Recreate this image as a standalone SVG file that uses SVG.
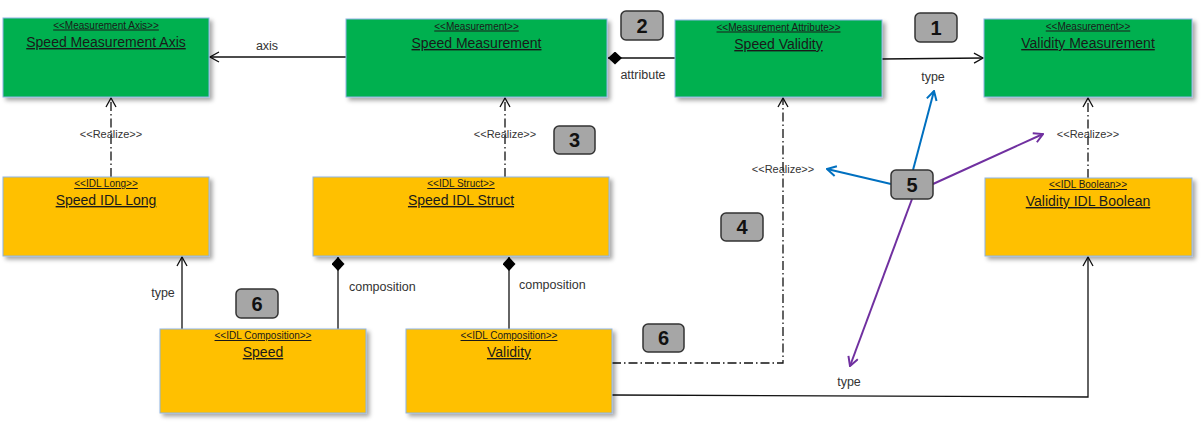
<svg xmlns="http://www.w3.org/2000/svg" width="1201" height="423" viewBox="0 0 1201 423">
<defs>
<style>
.g{fill:#00B050;stroke:#8EB4E3;stroke-width:1;filter:url(#sh)}
.y{fill:#FFC000;stroke:#8EB4E3;stroke-width:1;filter:url(#sh)}
.st{font-family:"Liberation Sans",Arial,sans-serif;font-size:10px;fill:#1a1a1a;text-anchor:middle;text-decoration:underline}
.nm{font-family:"Liberation Sans",Arial,sans-serif;font-size:14px;fill:#1a1a1a;text-anchor:middle;text-decoration:underline}
.lb{font-family:"Liberation Sans",Arial,sans-serif;font-size:12.5px;fill:#333}
.rz{font-family:"Liberation Sans",Arial,sans-serif;font-size:11px;fill:#333;text-anchor:middle}
.c{fill:#A6A6A6;stroke:#333;stroke-width:1.5}
.cn{font-family:"Liberation Sans",Arial,sans-serif;font-size:20px;font-weight:bold;fill:#111;text-anchor:middle}
.ln{fill:none;stroke:#111;stroke-width:1.3}
.dd{fill:none;stroke:#111;stroke-width:1.3;stroke-dasharray:9 3 1.5 3}
.bl{fill:none;stroke:#0070C0;stroke-width:2}
.pu{fill:none;stroke:#7030A0;stroke-width:2}
</style>
<filter id="sh" x="-10%" y="-10%" width="130%" height="130%">
<feDropShadow dx="3" dy="3" stdDeviation="2" flood-color="#000" flood-opacity="0.35"/>
</filter>
<marker id="ao" viewBox="0 0 11 12" refX="10" refY="6" markerWidth="11" markerHeight="12" markerUnits="userSpaceOnUse" orient="auto">
<path d="M1,1 L10,6 L1,11" fill="none" stroke="#111" stroke-width="1.3"/>
</marker>
<marker id="ab" viewBox="0 0 11 12" refX="10" refY="6" markerWidth="11" markerHeight="12" markerUnits="userSpaceOnUse" orient="auto">
<path d="M1,1 L10,6 L1,11" fill="none" stroke="#0070C0" stroke-width="2"/>
</marker>
<marker id="ap" viewBox="0 0 11 12" refX="10" refY="6" markerWidth="11" markerHeight="12" markerUnits="userSpaceOnUse" orient="auto">
<path d="M1,1 L10,6 L1,11" fill="none" stroke="#7030A0" stroke-width="2"/>
</marker>
<marker id="dm" viewBox="0 0 14 13" refX="0" refY="6.5" markerWidth="14" markerHeight="13" markerUnits="userSpaceOnUse" orient="auto">
<path d="M0,6.5 L7,0 L14,6.5 L7,13 Z" fill="#000"/>
</marker>
</defs>
<rect width="1201" height="423" fill="#fff"/>

<g id="connectors">
<line class="ln" x1="346" y1="57" x2="210" y2="57" marker-end="url(#ao)"/>
<text class="lb" x="267" y="50" text-anchor="middle">axis</text>
<line class="ln" x1="608" y1="58" x2="675" y2="58" marker-start="url(#dm)"/>
<text class="lb" x="643" y="79" text-anchor="middle">attribute</text>
<line class="ln" x1="882" y1="59" x2="983" y2="58" marker-end="url(#ao)"/>
<text class="lb" x="933" y="81" text-anchor="middle">type</text>
<line class="dd" x1="111" y1="177" x2="111" y2="98" marker-end="url(#ao)"/>
<text class="rz" x="111" y="138">&lt;&lt;Realize&gt;&gt;</text>
<line class="dd" x1="505" y1="177" x2="505" y2="98" marker-end="url(#ao)"/>
<text class="rz" x="505" y="138">&lt;&lt;Realize&gt;&gt;</text>
<polyline class="dd" points="612,363 783,363 783,98" marker-end="url(#ao)"/>
<text class="rz" x="783" y="173">&lt;&lt;Realize&gt;&gt;</text>
<line class="dd" x1="1088" y1="178" x2="1088" y2="98" marker-end="url(#ao)"/>
<text class="rz" x="1088" y="138">&lt;&lt;Realize&gt;&gt;</text>
<line class="ln" x1="182" y1="329" x2="182" y2="257" marker-end="url(#ao)"/>
<text class="lb" x="163" y="297" text-anchor="middle">type</text>
<line class="ln" x1="338" y1="257" x2="338" y2="329" marker-start="url(#dm)"/>
<text class="lb" x="349" y="291">composition</text>
<line class="ln" x1="509" y1="257" x2="509" y2="329" marker-start="url(#dm)"/>
<text class="lb" x="519" y="289">composition</text>
<polyline class="ln" points="612,395 1088,397 1088,257" marker-end="url(#ao)"/>
<text class="lb" x="849" y="386" text-anchor="middle">type</text>
<line class="bl" x1="913" y1="170" x2="934" y2="91" marker-end="url(#ab)"/>
<line class="bl" x1="891" y1="184" x2="827" y2="169" marker-end="url(#ab)"/>
<line class="pu" x1="933" y1="184" x2="1043" y2="134" marker-end="url(#ap)"/>
<line class="pu" x1="912" y1="199" x2="850" y2="366" marker-end="url(#ap)"/>
</g>

<g id="speed-measurement-axis">
<rect class="g" x="3" y="18" width="206" height="79"/>
<text class="st" x="106" y="28.5">&lt;&lt;Measurement Axis&gt;&gt;</text>
<text class="nm" x="106" y="47">Speed Measurement Axis</text>
</g>
<g id="speed-measurement">
<rect class="g" x="346" y="19" width="261" height="78"/>
<text class="st" x="476.5" y="29.5">&lt;&lt;Measurement&gt;&gt;</text>
<text class="nm" x="476.5" y="48">Speed Measurement</text>
</g>
<g id="speed-validity">
<rect class="g" x="675" y="20" width="207" height="77"/>
<text class="st" x="778.5" y="30.5">&lt;&lt;Measurement Attribute&gt;&gt;</text>
<text class="nm" x="778.5" y="49">Speed Validity</text>
</g>
<g id="validity-measurement">
<rect class="g" x="984" y="19" width="208" height="78"/>
<text class="st" x="1088" y="29.5">&lt;&lt;Measurement&gt;&gt;</text>
<text class="nm" x="1088" y="48">Validity Measurement</text>
</g>
<g id="speed-idl-long">
<rect class="y" x="3" y="177" width="206" height="79"/>
<text class="st" x="106" y="187">&lt;&lt;IDL Long&gt;&gt;</text>
<text class="nm" x="106" y="205">Speed IDL Long</text>
</g>
<g id="speed-idl-struct">
<rect class="y" x="313" y="177" width="296" height="79"/>
<text class="st" x="461" y="187">&lt;&lt;IDL Struct&gt;&gt;</text>
<text class="nm" x="461" y="205">Speed IDL Struct</text>
</g>
<g id="validity-idl-boolean">
<rect class="y" x="985" y="178" width="207" height="78"/>
<text class="st" x="1088" y="188">&lt;&lt;IDL Boolean&gt;&gt;</text>
<text class="nm" x="1088" y="206">Validity IDL Boolean</text>
</g>
<g id="speed">
<rect class="y" x="160" y="329" width="206" height="84"/>
<text class="st" x="263" y="339">&lt;&lt;IDL Composition&gt;&gt;</text>
<text class="nm" x="263" y="357">Speed</text>
</g>
<g id="validity">
<rect class="y" x="406" y="329" width="206" height="84"/>
<text class="st" x="509" y="339">&lt;&lt;IDL Composition&gt;&gt;</text>
<text class="nm" x="509" y="357">Validity</text>
</g>

<g id="callout-1"><rect class="c" x="915" y="13" width="42" height="29" rx="5"/><text class="cn" x="936" y="35">1</text></g>
<g id="callout-2"><rect class="c" x="621" y="11" width="42" height="29" rx="5"/><text class="cn" x="642" y="33">2</text></g>
<g id="callout-3"><rect class="c" x="554" y="126" width="41" height="28" rx="5"/><text class="cn" x="574.5" y="147">3</text></g>
<g id="callout-4"><rect class="c" x="721" y="213" width="42" height="28" rx="5"/><text class="cn" x="742" y="234">4</text></g>
<g id="callout-5"><rect class="c" x="891" y="170" width="42" height="29" rx="5"/><text class="cn" x="912" y="192">5</text></g>
<g id="callout-6a"><rect class="c" x="236" y="289" width="42" height="29" rx="5"/><text class="cn" x="257" y="311">6</text></g>
<g id="callout-6b"><rect class="c" x="643" y="324" width="41" height="28" rx="5"/><text class="cn" x="663.5" y="345">6</text></g>
</svg>
